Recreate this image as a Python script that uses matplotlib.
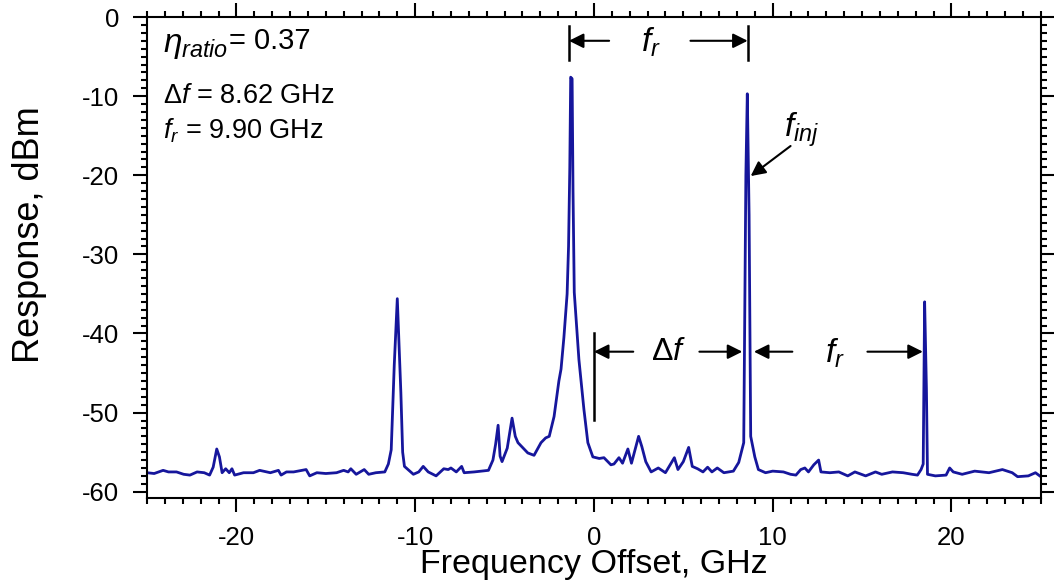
import matplotlib
matplotlib.use("Agg")
import matplotlib.pyplot as plt
from matplotlib.ticker import MultipleLocator

plt.rcParams['font.family'] = ['Liberation Sans', 'DejaVu Sans']
plt.rcParams['mathtext.fontset'] = 'custom'
plt.rcParams['mathtext.rm'] = 'Liberation Sans'
plt.rcParams['mathtext.it'] = 'Liberation Sans:italic'
plt.rcParams['axes.unicode_minus'] = False

# optical spectrum under injection, offset from free-running line
freq_ghz = [
    -25.0, -24.6, -24.1, -23.8, -23.35, -22.95, -22.6, -22.2, -21.8, -21.5,
    -21.3, -21.1, -20.95, -20.8, -20.6, -20.4, -20.25, -20.1, -19.6, -19.05,
    -18.7, -18.1, -17.65, -17.5, -17.2, -16.8, -16.1, -15.9, -15.5, -15.0,
    -14.4, -14.0, -13.75, -13.6, -13.3, -12.85, -12.6, -12.2, -11.7, -11.5,
    -11.34, -11.17, -11.0, -10.9, -10.8, -10.7, -10.6, -10.4, -10.1, -9.8,
    -9.55, -9.27, -8.83, -8.4, -8.15, -8.0, -7.7, -7.4, -7.26, -6.7,
    -5.9, -5.65, -5.5, -5.36, -5.25, -5.14, -4.85, -4.58, -4.4, -4.25,
    -3.7, -3.35, -2.96, -2.7, -2.5, -2.23, -1.96, -1.84, -1.68, -1.5,
    -1.42, -1.35, -1.3, -1.22, -1.17, -1.1, -0.84, -0.56, -0.34, -0.06,
    0.3, 0.56, 0.78, 0.95, 1.12, 1.4, 1.6, 1.9, 2.1, 2.5,
    2.68, 2.9, 3.2, 3.6, 4.0, 4.5, 4.7, 5.0, 5.3, 5.5,
    5.8, 6.1, 6.36, 6.6, 6.9, 7.27, 7.8, 8.1, 8.38, 8.5,
    8.58, 8.68, 8.77, 9.0, 9.2, 9.6, 10.0, 10.6, 11.0, 11.3,
    11.57, 11.8, 12.0, 12.3, 12.57, 12.7, 13.2, 13.7, 14.2, 14.6,
    15.2, 15.75, 16.1, 16.7, 17.3, 17.8, 18.1, 18.3, 18.42, 18.5,
    18.6, 18.66, 19.1, 19.7, 19.9, 20.1, 20.6, 21.3, 22.1, 22.85,
    23.4, 23.7, 24.3, 24.7, 25.0,
]
response_dbm = [
    -57.6, -57.7, -57.3, -57.5, -57.5, -57.8, -57.9, -57.5, -57.6, -57.9,
    -56.9, -54.6, -55.6, -57.6, -57.1, -57.6, -57.1, -57.9, -57.6, -57.6,
    -57.3, -57.6, -57.3, -57.9, -57.5, -57.5, -57.2, -58.0, -57.6, -57.7,
    -57.6, -57.3, -57.5, -57.1, -57.8, -57.2, -57.8, -57.6, -57.5, -56.5,
    -54.7, -44.0, -35.6, -41.6, -47.5, -55.0, -56.8, -57.2, -57.8, -57.5,
    -56.8, -57.5, -58.0, -57.1, -57.2, -57.0, -57.5, -56.8, -57.6, -57.5,
    -57.3, -56.0, -54.0, -51.6, -55.5, -56.2, -54.5, -50.7, -53.0, -53.8,
    -55.1, -55.4, -53.8, -53.2, -53.0, -50.5, -46.0, -44.5, -40.5, -35.0,
    -29.0, -19.0, -7.6, -7.8, -22.0, -34.8, -43.3, -49.6, -53.8, -55.6,
    -55.8, -55.7, -56.2, -56.6, -56.5, -55.7, -56.4, -54.6, -56.4, -53.0,
    -54.3, -56.2, -57.5, -57.0, -57.6, -55.7, -57.2, -56.2, -54.4, -56.8,
    -57.1, -57.5, -56.9, -57.5, -57.0, -57.6, -57.4, -56.3, -53.8, -20.0,
    -9.7, -25.0, -53.0, -55.6, -57.2, -57.6, -57.4, -57.5, -57.8, -57.9,
    -57.2, -57.0, -57.5, -56.6, -56.0, -57.5, -57.6, -57.5, -58.0, -57.5,
    -58.0, -57.5, -57.8, -57.5, -57.6, -57.8, -57.9, -57.2, -56.5, -36.0,
    -47.0, -57.8, -58.0, -57.9, -57.0, -57.5, -57.8, -57.4, -57.6, -57.2,
    -57.6, -58.1, -58.0, -57.6, -58.1,
]

peak_main = -1.4     # slave laser line
f_inj = 8.6          # injected master line
eta_ratio = 0.37
delta_f = 8.62
f_r = 9.90

fig = plt.figure(figsize=(10.54, 5.88), dpi=100)
ax = fig.add_axes([0.1395, 0.153, 0.848, 0.818])

ax.plot(freq_ghz, response_dbm, color='#16169c', lw=2.0)

ax.set_xlim(-25, 25)
ax.set_ylim(-60.8, 0)
ax.xaxis.set_major_locator(MultipleLocator(10))
ax.xaxis.set_minor_locator(MultipleLocator(1))
ax.yaxis.set_major_locator(MultipleLocator(10))
ax.yaxis.set_minor_locator(MultipleLocator(1))
ax.tick_params(which='both', direction='out', top=True, right=True, width=1.5,
               labelsize=18.5)
ax.tick_params(axis='x', pad=10)
ax.tick_params(axis='y', pad=10)
ax.tick_params(which='major', length=10)
ax.tick_params(which='minor', length=4)
for sp in ax.spines.values():
    sp.set_linewidth(1.5)

ax.set_xlabel('Frequency Offset, GHz', fontsize=24.5)
ax.set_ylabel('Response, dBm', fontsize=26)
ax.xaxis.set_label_coords(0.5, -0.105)
ax.yaxis.set_label_coords(-0.112, 0.547)

# parameter block
ax.text(-24.1, -3.6, r'$\eta_{ratio}$', fontsize=24, ha='left', va='center')
ax.text(-20.4, -3.0, f'= {eta_ratio:.2f}', fontsize=21, ha='left', va='center')
ax.text(-24.1, -10.0, rf'$\Delta f$ = {delta_f:.2f} GHz', fontsize=19.5,
        ha='left', va='center')
ax.text(-24.1, -14.4, rf'$f_r$ = {f_r:.2f} GHz', fontsize=19.5,
        ha='left', va='center')

arrow = dict(arrowstyle='-|>', color='k', lw=1.5, mutation_scale=22,
             shrinkA=0, shrinkB=0)

# f_r between main line and injected line
ax.plot([peak_main, peak_main], [-1.1, -5.4], color='k', lw=1.8)
ax.plot([f_inj, f_inj], [-1.1, -5.4], color='k', lw=1.8)
ax.annotate('', xy=(peak_main, -3.0), xytext=(0.85, -3.0), arrowprops=arrow)
ax.annotate('', xy=(f_inj, -3.0), xytext=(5.4, -3.0), arrowprops=arrow)
ax.text(3.2, -3.2, r'$f_r$', fontsize=24, ha='center', va='center')

# detuning and resonance spacing
ax.plot([0, 0], [-39.9, -50.9], color='k', lw=1.8)
ax.annotate('', xy=(0, -42.3), xytext=(2.2, -42.3), arrowprops=arrow)
ax.annotate('', xy=(8.3, -42.3), xytext=(5.9, -42.3), arrowprops=arrow)
ax.text(4.2, -42.3, r'$\Delta f$', fontsize=23, ha='center', va='center')
ax.annotate('', xy=(8.95, -42.3), xytext=(11.1, -42.3), arrowprops=arrow)
ax.annotate('', xy=(18.4, -42.3), xytext=(15.3, -42.3), arrowprops=arrow)
ax.text(13.5, -42.5, r'$f_r$', fontsize=24, ha='center', va='center')

# injected signal label
ax.annotate('', xy=(8.77, -20.1), xytext=(11.0, -16.3), arrowprops=arrow)
ax.text(11.6, -14.3, r'$f_{inj}$', fontsize=24, ha='center', va='center')

fig.savefig('out.png', dpi=100)
